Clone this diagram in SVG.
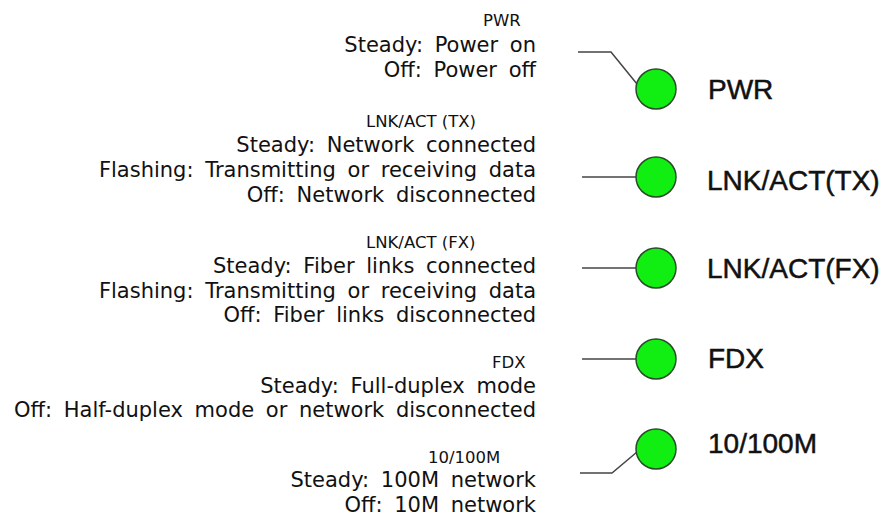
<svg xmlns="http://www.w3.org/2000/svg" width="890" height="517" viewBox="0 0 890 517">
<style>
.t{font-family:"DejaVu Sans",Verdana,sans-serif;font-size:16.5px;fill:#111}
.b{font-family:"DejaVu Sans",Verdana,sans-serif;font-size:21px;word-spacing:5px;fill:#111;text-anchor:end}
.lab{font-family:"Liberation Sans",Arial,sans-serif;font-size:28px;fill:#111;stroke:#111;stroke-width:0.5}
.led{fill:#11ee11;stroke:#2a4a2a;stroke-width:1.5}
.ln{fill:none;stroke:#444;stroke-width:1.5}
</style>
<rect width="890" height="517" fill="#fff"/>
<g id="desc-pwr">
<text class="t" x="483" y="26">PWR</text>
<text class="b" x="536" y="52">Steady: Power on</text>
<text class="b" x="536" y="77">Off: Power off</text>
</g>
<g id="desc-tx">
<text class="t" x="366" y="127">LNK/ACT (TX)</text>
<text class="b" x="536" y="152">Steady: Network connected</text>
<text class="b" x="536" y="177">Flashing: Transmitting or receiving data</text>
<text class="b" x="536" y="202">Off: Network disconnected</text>
</g>
<g id="desc-fx">
<text class="t" x="366" y="248">LNK/ACT (FX)</text>
<text class="b" x="536" y="273">Steady: Fiber links connected</text>
<text class="b" x="536" y="298">Flashing: Transmitting or receiving data</text>
<text class="b" x="536" y="322">Off: Fiber links disconnected</text>
</g>
<g id="desc-fdx">
<text class="t" x="492" y="368">FDX</text>
<text class="b" x="536" y="393">Steady: Full-duplex mode</text>
<text class="b" x="536" y="417">Off: Half-duplex mode or network disconnected</text>
</g>
<g id="desc-speed">
<text class="t" x="428" y="463">10/100M</text>
<text class="b" x="536" y="487">Steady: 100M network</text>
<text class="b" x="536" y="512">Off: 10M network</text>
</g>
<g id="connectors">
<polyline class="ln" points="578,52 611,52 637,84"/>
<line class="ln" x1="582" y1="177" x2="636" y2="177"/>
<line class="ln" x1="582" y1="268" x2="636" y2="268"/>
<line class="ln" x1="582" y1="359" x2="636" y2="359"/>
<polyline class="ln" points="580,473 612,473 637,452"/>
</g>
<g id="led-pwr"><circle class="led" cx="656" cy="89" r="20"/><text class="lab" x="708" y="99">PWR</text></g>
<g id="led-tx"><circle class="led" cx="656" cy="177" r="20"/><text class="lab" x="707" y="190">LNK/ACT(TX)</text></g>
<g id="led-fx"><circle class="led" cx="656" cy="268" r="20"/><text class="lab" x="707" y="278">LNK/ACT(FX)</text></g>
<g id="led-fdx"><circle class="led" cx="656" cy="359" r="20"/><text class="lab" x="708" y="368">FDX</text></g>
<g id="led-speed"><circle class="led" cx="656" cy="449" r="20"/><text class="lab" x="708" y="453">10/100M</text></g>
</svg>
